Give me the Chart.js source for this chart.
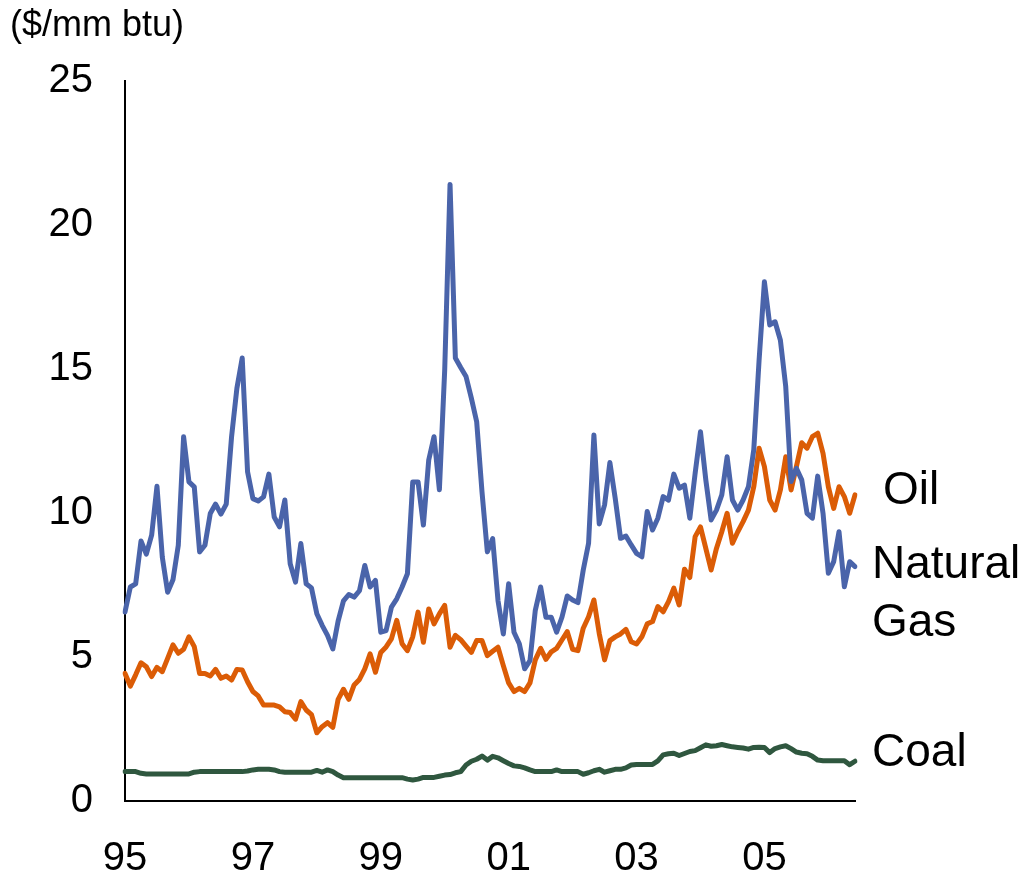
<!DOCTYPE html>
<html>
<head>
<meta charset="utf-8">
<script src="https://cdn.jsdelivr.net/npm/chart.js@4.4.1/dist/chart.umd.min.js"></script>
<style>
  html, body { margin: 0; padding: 0; background: #ffffff; }
  #wrap { width: 1026px; height: 880px; position: relative; }
</style>
</head>
<body>
<div id="wrap"><canvas id="c" width="1026" height="880"></canvas></div>
<script>
// Monthly prices, Jan 1995 .. Jun 2006 ($/mm btu)
const startYear = 1995;
const monthCount = 138;
const yearTickLabels = ['95', '97', '99', '01', '03', '05'];
const unitLabel = '($/mm btu)';
const seriesNames = ['Natural Gas', 'Oil', 'Coal'];

const gasPrices = [
  6.56, 7.43, 7.54, 9.03, 8.57, 9.23, 10.93, 8.47, 7.25, 7.68, 8.88, 12.65,
  11.08, 10.91, 8.65, 8.88, 9.98, 10.31, 9.96, 10.31, 12.65, 14.33, 15.38, 11.43,
  10.5, 10.42, 10.56, 11.35, 9.86, 9.52, 10.45, 8.24, 7.6, 8.94, 7.54, 7.4,
  6.5, 6.1, 5.75, 5.28, 6.25, 6.95, 7.17, 7.08, 7.3, 8.18, 7.43, 7.66,
  5.86, 5.92, 6.73, 7.02, 7.43, 7.89, 11.08, 11.08, 9.58, 11.84, 12.65, 10.81,
  14.97, 21.41, 15.38, 15.05, 14.74, 13.99, 13.17, 10.73, 8.65, 9.11, 6.96, 5.8,
  7.54, 5.86, 5.46, 4.59, 4.87, 6.62, 7.43, 6.38, 6.38, 5.86, 6.38, 7.12,
  6.98, 6.89, 8.02, 8.95, 12.71, 9.62, 10.28, 11.75, 10.51, 9.12, 9.2, 8.89,
  8.6, 8.48, 10.05, 9.41, 9.82, 10.57, 10.45, 11.35, 10.86, 10.97, 9.82, 11.38,
  12.82, 11.15, 9.76, 10.1, 10.63, 11.95, 10.45, 10.1, 10.45, 10.91, 12.19, 15.31,
  18.03, 16.53, 16.64, 16.0, 14.39, 11.09, 11.55, 11.15, 9.99, 9.82, 11.28, 9.99,
  7.91, 8.31, 9.35, 7.44, 8.31, 8.14
];

const oilPrices = [
  4.43, 3.99, 4.38, 4.8, 4.66, 4.32, 4.64, 4.49, 4.95, 5.42, 5.13, 5.27,
  5.7, 5.36, 4.43, 4.43, 4.34, 4.57, 4.26, 4.34, 4.2, 4.57, 4.55, 4.14,
  3.8, 3.65, 3.33, 3.33, 3.33, 3.27, 3.1, 3.07, 2.84, 3.45, 3.16, 3.0,
  2.37, 2.58, 2.72, 2.56, 3.53, 3.88, 3.53, 4.03, 4.22, 4.59, 5.11, 4.47,
  5.16, 5.35, 5.63, 6.27, 5.46, 5.22, 5.7, 6.56, 5.51, 6.67, 6.15, 6.5,
  6.79, 5.34, 5.75, 5.6, 5.38, 5.16, 5.57, 5.57, 5.05, 5.2, 5.34, 4.7,
  4.1, 3.8, 3.91, 3.8, 4.1, 4.9, 5.3, 4.92, 5.18, 5.3, 5.59, 5.88,
  5.27, 5.22, 6.0, 6.4, 6.98, 5.82, 4.9, 5.57, 5.7, 5.8, 5.96, 5.53,
  5.45, 5.7, 6.15, 6.23, 6.75, 6.57, 6.92, 7.39, 6.81, 8.05, 7.76, 9.18,
  9.52, 8.77, 8.02, 8.77, 9.35, 9.99, 8.95, 9.35, 9.7, 10.1, 10.91, 12.25,
  11.61, 10.45, 10.1, 10.8, 11.95, 10.8, 11.61, 12.44, 12.25, 12.65, 12.77, 12.07,
  10.91, 10.16, 10.91, 10.57, 9.99, 10.63
];

const coalPrices = [
  1.02, 1.02, 1.02, 0.96, 0.94, 0.94, 0.94, 0.94, 0.94, 0.94, 0.94, 0.94,
  0.94, 1.0, 1.02, 1.02, 1.02, 1.02, 1.02, 1.02, 1.02, 1.02, 1.02, 1.04,
  1.08, 1.1, 1.1, 1.1, 1.08, 1.02, 1.0, 1.0, 1.0, 1.0, 1.0, 1.0,
  1.06, 1.0, 1.08, 1.02, 0.9, 0.81, 0.81, 0.81, 0.81, 0.81, 0.81, 0.81,
  0.81, 0.81, 0.81, 0.81, 0.81, 0.76, 0.73, 0.76, 0.82, 0.82, 0.82, 0.86,
  0.9, 0.92, 0.98, 1.02, 1.25, 1.38, 1.45, 1.56, 1.42, 1.55, 1.5, 1.4,
  1.3, 1.22, 1.2, 1.15, 1.08, 1.02, 1.02, 1.02, 1.02, 1.08, 1.02, 1.02,
  1.02, 1.02, 0.93, 0.98, 1.05, 1.1, 1.0, 1.05, 1.1, 1.1, 1.15, 1.25,
  1.27, 1.27, 1.27, 1.27, 1.39, 1.6, 1.64, 1.66, 1.58, 1.65, 1.72, 1.75,
  1.85, 1.95, 1.9, 1.92, 1.96, 1.92, 1.88, 1.86, 1.84, 1.8, 1.86, 1.87,
  1.86, 1.68, 1.82, 1.88, 1.92, 1.82, 1.7, 1.66, 1.64, 1.55, 1.42, 1.4,
  1.4, 1.4, 1.4, 1.4, 1.26, 1.38
];

const months = [];
for (let i = 0; i < monthCount; i++) {
  const y = startYear + Math.floor(i / 12);
  const m = (i % 12) + 1;
  months.push(y + '-' + (m < 10 ? '0' + m : m));
}

const FONT = '"Liberation Sans", Arial, Helvetica, sans-serif';
const COLORS = { gas: '#4A64AA', oil: '#DB5C06', coal: '#2F573F' };

const sideLabels = {
  id: 'sideLabels',
  afterDraw(chart) {
    const ctx = chart.ctx;
    ctx.save();
    ctx.fillStyle = '#000';
    ctx.textBaseline = 'alphabetic';
    ctx.textAlign = 'left';
    ctx.font = '36px ' + FONT;
    ctx.fillText(unitLabel, 10, 36);
    ctx.font = '46px ' + FONT;
    ctx.fillText('Oil', 883, 504);
    ctx.fillText('Natural', 872, 578);
    ctx.fillText('Gas', 872, 636);
    ctx.fillText('Coal', 872, 766);
    ctx.restore();
  }
};

new Chart(document.getElementById('c'), {
  type: 'line',
  data: {
    labels: months,
    datasets: [
      { label: seriesNames[0], data: gasPrices, borderColor: COLORS.gas },
      { label: seriesNames[1], data: oilPrices, borderColor: COLORS.oil },
      { label: seriesNames[2], data: coalPrices, borderColor: COLORS.coal }
    ]
  },
  options: {
    responsive: false,
    animation: false,
    devicePixelRatio: 1,
    layout: { padding: { top: 81, right: 171, left: 0, bottom: 0 } },
    elements: {
      line: { borderWidth: 5, tension: 0, borderCapStyle: 'round', borderJoinStyle: 'round', fill: false },
      point: { radius: 0, hoverRadius: 0 }
    },
    plugins: {
      legend: { display: false },
      tooltip: { enabled: false },
      title: { display: false }
    },
    scales: {
      x: {
        type: 'category',
        offset: false,
        grid: { display: false, drawTicks: false },
        border: { display: true, color: '#000', width: 2 },
        ticks: {
          autoSkip: false,
          maxRotation: 0,
          minRotation: 0,
          padding: 34,
          color: '#000',
          font: { family: FONT, size: 40 },
          callback: function (value, index) {
            return index % 24 === 0 ? yearTickLabels[index / 24] : '';
          }
        },
        afterFit(scale) { scale.height = 79; }
      },
      y: {
        min: 0,
        max: 25,
        grid: { display: false, drawTicks: false },
        border: { display: true, color: '#000', width: 2 },
        ticks: {
          stepSize: 5,
          padding: 32,
          color: '#000',
          font: { family: FONT, size: 40 }
        },
        afterFit(scale) { scale.width = 125; }
      }
    }
  },
  plugins: [sideLabels]
});
</script>
</body>
</html>
